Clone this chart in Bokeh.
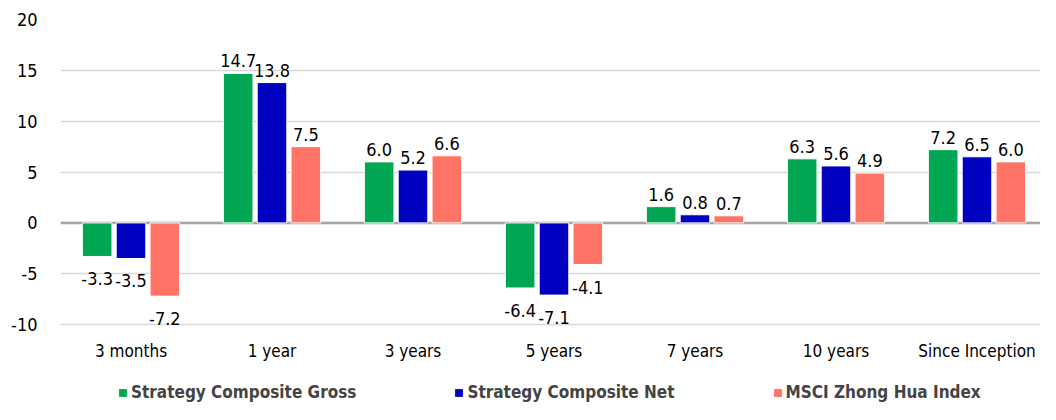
from bokeh.plotting import figure
from bokeh.models import ColumnDataSource, FixedTicker, Legend, LegendItem, Span, Range1d
from bokeh.core.properties import value
from bokeh.embed import file_html
from bokeh.resources import INLINE

categories = ["3 months", "1 year", "3 years", "5 years", "7 years", "10 years", "Since Inception"]
gross = [-3.3, 14.7, 6.0, -6.4, 1.6, 6.3, 7.2]
net = [-3.5, 13.8, 5.2, -7.1, 0.8, 5.6, 6.5]
msci = [-7.2, 7.5, 6.6, -4.1, 0.7, 4.9, 6.0]
series_names = ["Strategy Composite Gross", "Strategy Composite Net", "MSCI Zhong Hua Index"]
colors = ["#00A651", "#0000C0", "#FF7466"]
y_ticks = [-10, -5, 0, 5, 10, 15, 20]

FONT = "DejaVu Sans Condensed"

FRAME_W = 980
CAT_PX = 141.0
FRAME_H = 385
PX_PER_UNIT = 10.17
y_top = max(y_ticks)
y_bottom = y_top - FRAME_H / PX_PER_UNIT   # extra room below -10 for labels and legend
centers = [i + 0.5 for i in range(len(categories))]

p = figure(x_range=Range1d(0, FRAME_W / CAT_PX), y_range=Range1d(y_bottom, y_top),
           width=1040, height=404,
           output_backend="svg", toolbar_location=None,
           min_border_left=60, min_border_right=0, min_border_top=19, min_border_bottom=0)
p.outline_line_color = None

offsets = [-0.24, 0.0, 0.24]
renderers = []
for vals, name, col, off in zip([gross, net, msci], series_names, colors, offsets):
    xs = [c + off for c in centers]
    src = ColumnDataSource(dict(x=xs, val=vals))
    r = p.vbar(x="x", top="val", bottom=0, width=0.21,
               source=src, fill_color=col, line_color="white", line_width=1)
    renderers.append(r)
    pos_src = ColumnDataSource(dict(x=[x for x, v in zip(xs, vals) if v >= 0],
                                    val=[v for v in vals if v >= 0],
                                    lbl=["%.1f" % v for v in vals if v >= 0]))
    neg_src = ColumnDataSource(dict(x=[x for x, v in zip(xs, vals) if v < 0],
                                    val=[v for v in vals if v < 0],
                                    lbl=["%.1f" % v for v in vals if v < 0]))
    p.text(x="x", y="val", text="lbl", source=pos_src,
           text_align="center", text_baseline="bottom", y_offset=-6,
           text_font=value(FONT), text_font_size="18px", text_color="#000000")
    p.text(x="x", y="val", text="lbl", source=neg_src,
           text_align="center", text_baseline="top", y_offset=16,
           text_font=value(FONT), text_font_size="18px", text_color="#000000")

# category labels, placed just under the lowest gridline
cat_src = ColumnDataSource(dict(x=centers, y=[min(y_ticks)] * len(categories), t=categories))
p.text(x="x", y="y", text="t", source=cat_src, text_align="center", text_baseline="middle",
       y_offset=26, text_font=value(FONT), text_font_size="17px", text_color="#000000")

zero = Span(location=0, dimension="width", line_color="#A6A6A6", line_width=2.5, level="underlay")
p.add_layout(zero)

p.xaxis.visible = False
p.yaxis.ticker = FixedTicker(ticks=y_ticks)
p.yaxis.major_label_overrides = {t: str(t) for t in y_ticks}
p.xgrid.grid_line_color = None
p.ygrid.grid_line_color = "#D9D9D9"
p.ygrid.grid_line_width = 1.5
ax = p.yaxis[0]
ax.axis_line_color = None
ax.major_tick_line_color = None
ax.minor_tick_line_color = None
ax.major_label_text_font = FONT
ax.major_label_text_color = "#000000"
ax.major_label_text_font_size = "18px"
ax.major_label_standoff = 17

legend = Legend(items=[LegendItem(label=n, renderers=[r]) for n, r in zip(series_names, renderers)],
                orientation="horizontal", location=(57, 2),
                label_text_font=FONT, label_text_font_size="17px", label_text_font_style="bold",
                glyph_width=11, glyph_height=11, label_standoff=3, spacing=97,
                padding=0, margin=0, border_line_color=None, background_fill_alpha=0)
p.add_layout(legend, "center")

open("out.html", "w").write(file_html(p, INLINE))
